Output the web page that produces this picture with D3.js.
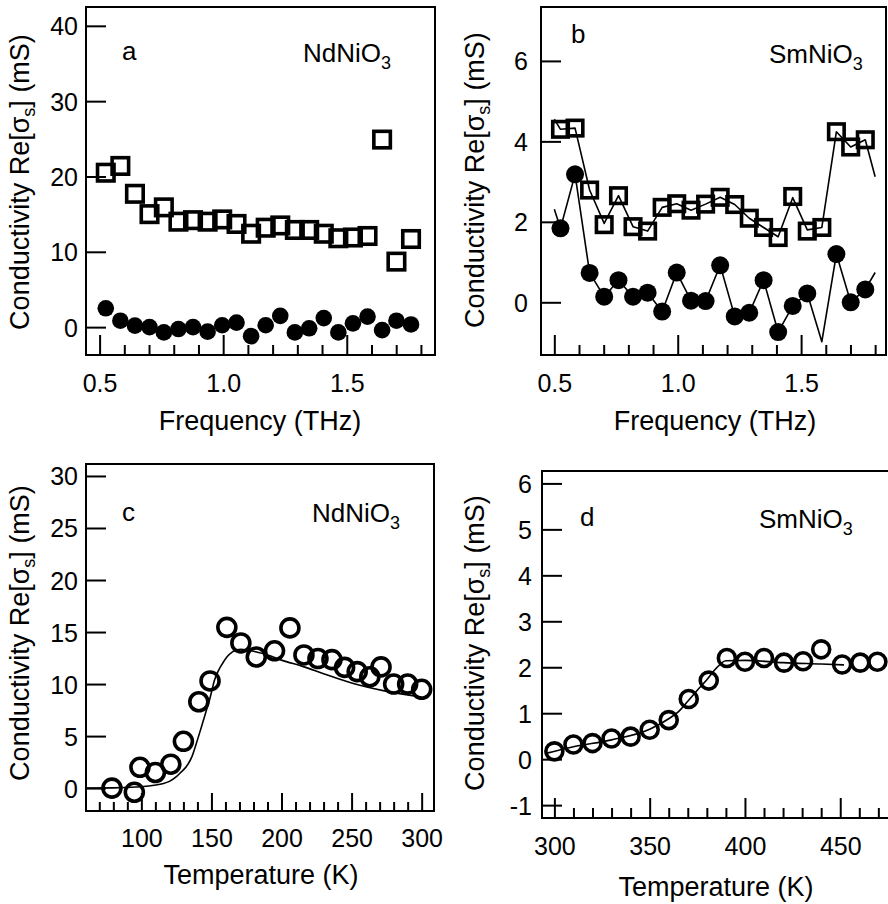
<!DOCTYPE html>
<html lang="en">
<head>
    <meta charset="UTF-8">
    <title>Conductivity Re[σs] - NdNiO3 / SmNiO3</title>
    <script src="https://d3js.org/d3.v7.min.js"></script>
    <style>
        body { margin: 0; background: #fff; }
        svg { display: block; font-family: "Liberation Sans", Arial, Helvetica, sans-serif; }
    </style>
</head>
<body>
    <svg id="chart" width="888" height="904"></svg>
    <script>
        // ---- data ----
        // panels a, b: frequency in THz
        var freq = [0.525, 0.584, 0.643, 0.702, 0.760, 0.819, 0.878, 0.937, 0.996, 1.054, 1.113,
                    1.172, 1.231, 1.290, 1.348, 1.407, 1.466, 1.525, 1.584, 1.643, 1.701, 1.760];

        var aOpen = [20.5, 21.4, 17.7, 15.0, 15.9, 14.0, 14.2, 14.0, 14.3, 13.7, 12.4,
                     13.2, 13.5, 12.9, 12.9, 12.4, 11.8, 11.9, 12.1, 24.9, 8.7, 11.7];
        var aFilled = [2.5, 0.85, 0.2, 0.0, -0.7, -0.25, 0.0, -0.6, 0.25, 0.6, -1.2,
                       0.25, 1.5, -0.7, -0.15, 1.2, -0.7, 0.5, 1.4, -0.4, 0.85, 0.35];

        var bOpen = [4.30, 4.33, 2.79, 1.93, 2.65, 1.88, 1.77, 2.36, 2.45, 2.29, 2.44,
                     2.61, 2.43, 2.09, 1.86, 1.61, 2.63, 1.77, 1.86, 4.24, 3.86, 4.04];
        var bFilled = [1.84, 3.18, 0.73, 0.14, 0.55, 0.14, 0.24, -0.23, 0.74, 0.04, 0.03,
                       0.92, -0.35, -0.26, 0.55, -0.74, -0.09, 0.22, null, 1.20, 0.00, 0.32];

        // thin lines in panel b
        var bLineFreq = [0.500, 0.525, 0.584, 0.643, 0.702, 0.760, 0.819, 0.878, 0.937, 0.996, 1.054, 1.113,
                         1.172, 1.231, 1.290, 1.348, 1.407, 1.466, 1.525, 1.584, 1.643, 1.701, 1.760, 1.800];
        var bLineOpen = [4.55, 4.30, 4.33, 2.79, 1.96, 2.65, 1.88, 1.77, 2.36, 2.45, 2.29, 2.44,
                         2.61, 2.43, 2.09, 1.86, 1.63, 2.60, 1.80, 1.86, 4.24, 3.86, 4.04, 3.12];
        var bLineFilled = [2.31, 1.84, 3.18, 0.73, 0.14, 0.55, 0.14, 0.24, -0.23, 0.74, 0.04, 0.03,
                           0.92, -0.35, -0.26, 0.55, -0.74, -0.09, 0.22, -0.98, 1.20, 0.00, 0.32, 0.74];

        // panel c: NdNiO3 vs temperature
        var tempC = [79, 95, 99, 110, 121, 130, 141, 149, 161, 171, 182, 195,
                     206, 216, 226, 236, 245, 254, 263, 271, 280, 290, 300];
        var cOpen = [0.0, -0.4, 2.0, 1.5, 2.3, 4.5, 8.3, 10.3, 15.45, 13.95, 12.6, 13.2,
                     15.4, 12.8, 12.45, 12.35, 11.6, 11.2, 10.7, 11.65, 10.0, 10.0, 9.5];
        var cFitT = [61, 80, 96, 105, 115, 120, 125, 128, 132, 136, 139, 142, 144, 146, 148.5, 150,
                     152, 155, 158, 161, 165, 168, 171, 175, 180, 190, 200, 215, 230, 250, 275, 300];
        var cFit = [0, 0.02, 0.1, 0.2, 0.42, 0.65, 1.1, 1.5, 2.05, 3.0, 4.2, 5.5, 6.4, 7.3, 8.4, 9.2,
                    10.3, 11.3, 12.0, 12.6, 13.1, 13.3, 13.35, 13.3, 13.15, 12.8, 12.3, 11.7, 11.0, 10.1, 9.3, 8.75];

        // panel d: SmNiO3 vs temperature
        var tempD = [300, 310, 320, 330, 340, 350, 360, 370.5, 381, 390.5, 400, 410, 420.5, 430.5, 440, 451, 460.5, 469.5];
        var dOpen = [0.17, 0.32, 0.35, 0.45, 0.49, 0.64, 0.85, 1.31, 1.71, 2.20, 2.12, 2.20, 2.10, 2.13, 2.39, 2.06, 2.10, 2.12];
        var dFitT = [295, 310, 330, 350, 360, 365, 370, 375, 380, 385, 390, 400, 420, 440, 452];
        var dFit = [0.12, 0.27, 0.42, 0.65, 0.88, 1.03, 1.26, 1.50, 1.73, 1.98, 2.14, 2.15, 2.10, 2.07, 2.05];

        // tick values
        var freqMajor = [0.5, 1.0, 1.5];
        var freqMinor = [0.6, 0.7, 0.8, 0.9, 1.1, 1.2, 1.3, 1.4, 1.6, 1.7, 1.8];
        var aYTicks = [0, 10, 20, 30, 40];
        var bYTicks = [0, 2, 4, 6];
        var cXMajor = [100, 150, 200, 250, 300];
        var cXMinor = [70, 80, 90, 110, 120, 130, 140, 160, 170, 180, 190, 210, 220, 230, 240, 260, 270, 280, 290];
        var cYTicks = [0, 5, 10, 15, 20, 25, 30];
        var dXMajor = [300, 350, 400, 450];
        var dXMinor = [310, 320, 330, 340, 360, 370, 380, 390, 410, 420, 430, 440, 460, 470];
        var dYTicks = [-1, 0, 1, 2, 3, 4, 5, 6];

        var svg = d3.select("#chart");

        var yTitle = "Conductivity Re[σ";

        // plain hyphen for negatives, like the original figure
        function intFmt(v) { return String(v); }

        function drawPanel(p) {
            var x = d3.scaleLinear().domain(p.xDomain).range([p.left, p.right]);
            var y = d3.scaleLinear().domain(p.yDomain).range([p.bottom, p.top]);

            var g = svg.append("g");

            g.append("clipPath").attr("id", "clip-" + p.id)
                .append("rect")
                .attr("x", p.left).attr("y", p.top)
                .attr("width", p.right - p.left).attr("height", p.bottom - p.top);

            // minor x ticks
            var xm = g.append("g")
                .attr("transform", "translate(0," + p.bottom + ")")
                .call(d3.axisBottom(x).tickValues(p.xMinor).tickSize(-p.minorLen).tickFormat(""));
            xm.select(".domain").remove();
            xm.selectAll("line").attr("stroke-width", 2);

            // major x ticks + labels
            var xa = g.append("g")
                .attr("transform", "translate(0," + p.bottom + ")")
                .call(d3.axisBottom(x).tickValues(p.xMajor).tickSize(-p.majorLen).tickFormat(p.xFormat));
            xa.select(".domain").remove();
            xa.selectAll("line").attr("stroke-width", 2);
            xa.attr("font-size", null).attr("font-family", null);
            xa.selectAll("text")
                .attr("y", p.xLabelY)
                .attr("dy", null)
                .style("font-size", "25px")
                .attr("fill", "#000");

            // y ticks + labels
            var ya = g.append("g")
                .attr("transform", "translate(" + p.left + ",0)")
                .call(d3.axisLeft(y).tickValues(p.yTicks).tickSize(-20).tickPadding(p.yPad).tickFormat(intFmt));
            ya.select(".domain").remove();
            ya.selectAll("line").attr("stroke-width", 2);
            ya.attr("font-size", null).attr("font-family", null);
            ya.selectAll("text")
                .attr("dy", "0.36em")
                .style("font-size", "25px")
                .attr("fill", "#000");

            // frame
            g.append("rect")
                .attr("x", p.left).attr("y", p.top)
                .attr("width", p.right - p.left).attr("height", p.bottom - p.top)
                .attr("fill", "none").attr("stroke", "#000").attr("stroke-width", 2);

            var plot = g.append("g").attr("clip-path", "url(#clip-" + p.id + ")");

            // axis titles
            g.append("text")
                .attr("x", p.xTitle[0]).attr("y", p.xTitle[1])
                .attr("text-anchor", "middle")
                .style("font-size", "27px")
                .text(p.xLabel);

            var yt = g.append("text")
                .attr("transform", "translate(" + p.yTitle[0] + "," + p.yTitle[1] + ") rotate(-90)")
                .attr("text-anchor", "middle")
                .style("font-size", "27px");
            yt.append("tspan").text(yTitle);
            yt.append("tspan").attr("dy", 6).style("font-size", "18px").text("s");
            yt.append("tspan").attr("dy", -6).text("] (mS)");

            // panel letter and compound name
            g.append("text")
                .attr("x", p.letterPos[0]).attr("y", p.letterPos[1])
                .style("font-size", "26px")
                .text(p.letter);
            var nm = g.append("text")
                .attr("x", p.namePos[0]).attr("y", p.namePos[1])
                .style("font-size", "26px");
            nm.append("tspan").text(p.name);
            nm.append("tspan").attr("dy", 7).style("font-size", "18px").text("3");

            return { x: x, y: y, plot: plot };
        }

        function drawLine(ctx, xs, ys, curve) {
            var pts = xs.map(function(d, i) { return [d, ys[i]]; });
            var line = d3.line()
                .x(function(d) { return ctx.x(d[0]); })
                .y(function(d) { return ctx.y(d[1]); })
                .curve(curve || d3.curveLinear);
            ctx.plot.append("path")
                .datum(pts)
                .attr("fill", "none")
                .attr("stroke", "#000")
                .attr("stroke-width", 1.6)
                .attr("stroke-linejoin", "round")
                .attr("d", line);
        }

        function drawSquares(ctx, xs, ys, side) {
            var pts = xs.map(function(d, i) { return [d, ys[i]]; }).filter(function(d) { return d[1] !== null; });
            ctx.plot.selectAll(null)
                .data(pts)
                .enter().append("rect")
                .attr("x", function(d) { return ctx.x(d[0]) - side / 2; })
                .attr("y", function(d) { return ctx.y(d[1]) - side / 2; })
                .attr("width", side).attr("height", side)
                .attr("fill", "none")
                .attr("stroke", "#000")
                .attr("stroke-width", 3.6);
        }

        function drawCircles(ctx, xs, ys, r, filled) {
            var pts = xs.map(function(d, i) { return [d, ys[i]]; }).filter(function(d) { return d[1] !== null; });
            ctx.plot.selectAll(null)
                .data(pts)
                .enter().append("circle")
                .attr("cx", function(d) { return ctx.x(d[0]); })
                .attr("cy", function(d) { return ctx.y(d[1]); })
                .attr("r", r)
                .attr("fill", filled ? "#000" : "none")
                .attr("stroke", "#000")
                .attr("stroke-width", filled ? 0 : 3.6);
        }

        var f1 = d3.format(".1f");

        // a
        var a = drawPanel({
            id: "a", left: 86, right: 435, top: 7, bottom: 355,
            xDomain: [0.445, 1.857], yDomain: [-3.7, 42.5],
            xMajor: freqMajor, xMinor: freqMinor, xFormat: f1, majorLen: 20, minorLen: 10,
            yTicks: aYTicks, yPad: 8, xLabelY: 37,
            xLabel: "Frequency (THz)", xTitle: [260, 430], yTitle: [29, 182],
            letter: "a", letterPos: [122, 60], name: "NdNiO", namePos: [303, 62]
        });
        drawSquares(a, freq, aOpen, 16.5);
        drawCircles(a, freq, aFilled, 8.3, true);

        // b
        var b = drawPanel({
            id: "b", left: 541, right: 886, top: 7, bottom: 355,
            xDomain: [0.446, 1.844], yDomain: [-1.31, 7.34],
            xMajor: freqMajor, xMinor: freqMinor, xFormat: f1, majorLen: 20, minorLen: 10,
            yTicks: bYTicks, yPad: 13, xLabelY: 37,
            xLabel: "Frequency (THz)", xTitle: [715, 430], yTitle: [484, 180],
            letter: "b", letterPos: [571, 43], name: "SmNiO", namePos: [769, 63]
        });
        drawLine(b, bLineFreq, bLineOpen);
        drawLine(b, bLineFreq, bLineFilled);
        drawSquares(b, freq, bOpen, 15.5);
        drawCircles(b, freq, bFilled, 9, true);

        // c
        var c = drawPanel({
            id: "c", left: 86, right: 434, top: 464, bottom: 811,
            xDomain: [60.5, 308.8], yDomain: [-2.2, 31.15],
            xMajor: cXMajor, xMinor: cXMinor, xFormat: intFmt, majorLen: 18, minorLen: 9,
            yTicks: cYTicks, yPad: 8, xLabelY: 36,
            xLabel: "Temperature (K)", xTitle: [261, 884], yTitle: [29, 633],
            letter: "c", letterPos: [122, 521], name: "NdNiO", namePos: [312, 522]
        });
        drawLine(c, cFitT, cFit, d3.curveMonotoneX);
        drawCircles(c, tempC, cOpen, 9, false);

        // d (runs past the right edge of the picture)
        var d = drawPanel({
            id: "d", left: 542, right: 942, top: 471, bottom: 818,
            xDomain: [293.5, 503.4], yDomain: [-1.28, 6.27],
            xMajor: dXMajor, xMinor: dXMinor, xFormat: intFmt, majorLen: 20, minorLen: 10,
            yTicks: dYTicks, yPad: 10, xLabelY: 37,
            xLabel: "Temperature (K)", xTitle: [716, 896], yTitle: [484, 643],
            letter: "d", letterPos: [580, 526], name: "SmNiO", namePos: [759, 528]
        });
        drawLine(d, dFitT, dFit, d3.curveMonotoneX);
        drawCircles(d, tempD, dOpen, 8.5, false);
    </script>
</body>
</html>
